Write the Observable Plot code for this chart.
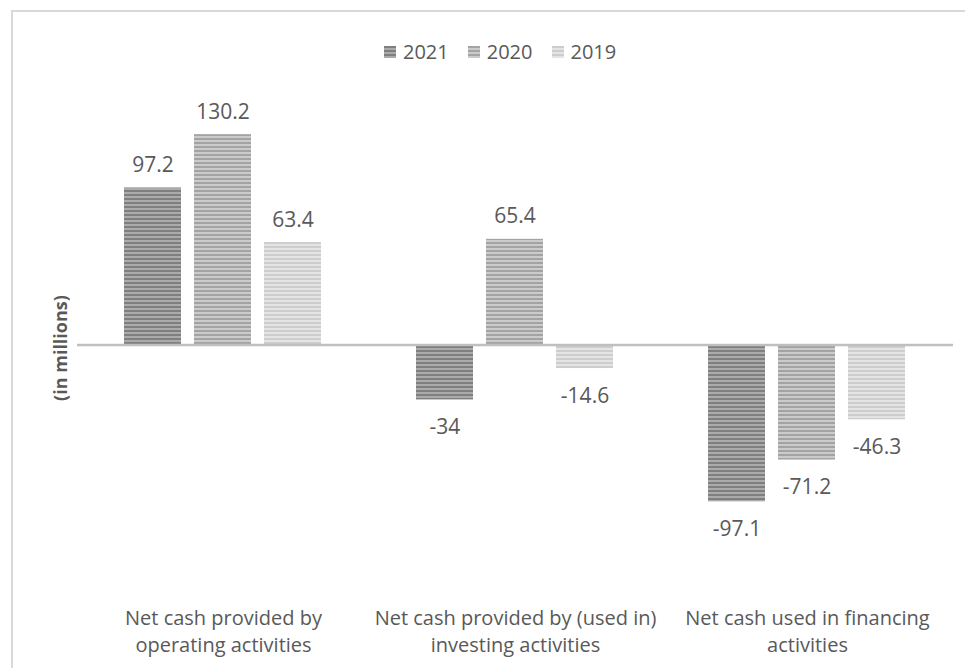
<!DOCTYPE html>
<html>
<head>
<meta charset="utf-8">
<script src="https://cdn.jsdelivr.net/npm/d3@7"></script>
<script src="https://cdn.jsdelivr.net/npm/@observablehq/plot@0.6"></script>
<style>
  body { margin: 0; background: #fff; }
  #wrap { position: relative; width: 965px; height: 668px; overflow: hidden; background: #fff; font-family: "Open Sans", sans-serif; color: #595959; }
  #frame { position: absolute; left: 11px; top: 10px; width: 1200px; height: 1000px; border-top: 2px solid #d9d9d9; border-left: 2px solid #d9d9d9; pointer-events: none; }
  #legend { position: relative; height: 70px; }
  #legend .items { position: absolute; left: 384px; top: 40px; height: 24px; display: flex; align-items: center; font-size: 20px; line-height: 24px; }
  #legend .item { display: flex; align-items: center; margin-right: 19px; }
  #legend .sw { width: 12px; height: 12px; margin-right: 7px; }
  #chart { position: relative; }
</style>
</head>
<body>
<div id="wrap">
  <div id="frame"></div>
  <div id="legend"><div class="items"></div></div>
  <div id="chart"></div>
</div>
<script>
// ---- data ----
const categories = [
  "Net cash provided by\noperating activities",
  "Net cash provided by (used in)\ninvesting activities",
  "Net cash used in financing\nactivities"
];
const years = ["2021", "2020", "2019"];
const values2021 = [97.2, -34, -97.1];
const values2020 = [130.2, 65.4, -71.2];
const values2019 = [63.4, -14.6, -46.3];
const yLabel = "(in millions)";

// stripe colours per year [dark, light]
const stripeColors = {
  "2021": ["#7f7f7f", "#ababab"],
  "2020": ["#a3a3a3", "#cbcbcb"],
  "2019": ["#cdcdcd", "#e4e4e4"]
};

const seriesByYear = {"2021": values2021, "2020": values2020, "2019": values2019};
const data = [];
categories.forEach((c, i) => {
  years.forEach(y => data.push({category: c, year: y, value: seriesByYear[y][i]}));
});

// ---- legend ----
const items = document.querySelector("#legend .items");
years.forEach(y => {
  const [d, l] = stripeColors[y];
  const it = document.createElement("div");
  it.className = "item";
  const sw = document.createElement("div");
  sw.className = "sw";
  sw.style.background = `repeating-linear-gradient(to bottom, ${d} 0px, ${d} 2px, ${l} 2px, ${l} 4px)`;
  const t = document.createElement("span");
  t.textContent = y;
  it.appendChild(sw); it.appendChild(t);
  items.appendChild(it);
});

// ---- chart ----
const patternIds = years.map(y => `url(#stripe${y})`);

const chart = Plot.plot({
  width: 965,
  height: 598,
  marginLeft: 76,
  marginRight: 12,
  marginTop: 16,
  marginBottom: 65,
  style: {fontFamily: "Open Sans, sans-serif", color: "#595959", background: "transparent", overflow: "visible"},
  fx: {domain: categories, padding: 0, axis: null, label: null},
  x: {domain: years, paddingInner: 0.18, paddingOuter: 0.65, axis: null, label: null},
  y: {domain: [-160, 160], axis: null, label: null},
  color: {domain: years, range: patternIds},
  marks: [
    Plot.barY(data, {fx: "category", x: "year", y: "value", fill: "year"}),
    Plot.ruleY([0], {stroke: "#bfbfbf", strokeWidth: 2.5}),
    Plot.text(data.filter(d => d.value >= 0), {
      fx: "category", x: "year", y: "value", text: d => String(d.value),
      lineAnchor: "bottom", dy: -16, fontSize: 21, fill: "#595959"
    }),
    Plot.text(data.filter(d => d.value < 0), {
      fx: "category", x: "year", y: "value", text: d => String(d.value),
      lineAnchor: "bottom", dy: 34, fontSize: 21, fill: "#595959"
    }),
    Plot.text(categories, {
      fx: d => d, text: d => d, frameAnchor: "bottom", lineAnchor: "top",
      dy: 2, fontSize: 20, lineHeight: 1.37, fill: "#595959"
    }),
    Plot.text([categories[0]], {
      fx: d => d, text: () => yLabel, frameAnchor: "left", textAnchor: "middle",
      lineAnchor: "middle", rotate: -90,
      dx: -16, dy: 3, fontSize: 18, fontWeight: "bold", fill: "#595959"
    })
  ]
});

// stripe patterns
const svgNS = "http://www.w3.org/2000/svg";
const defs = document.createElementNS(svgNS, "defs");
years.forEach(y => {
  const [d, l] = stripeColors[y];
  const p = document.createElementNS(svgNS, "pattern");
  p.setAttribute("id", `stripe${y}`);
  p.setAttribute("patternUnits", "userSpaceOnUse");
  p.setAttribute("width", "8");
  p.setAttribute("height", "4");
  const r1 = document.createElementNS(svgNS, "rect");
  r1.setAttribute("width", "8"); r1.setAttribute("height", "4"); r1.setAttribute("fill", l);
  const r2 = document.createElementNS(svgNS, "rect");
  r2.setAttribute("width", "8"); r2.setAttribute("height", "2"); r2.setAttribute("fill", d);
  p.appendChild(r1); p.appendChild(r2);
  defs.appendChild(p);
});
chart.insertBefore(defs, chart.firstChild);

document.getElementById("chart").appendChild(chart);
</script>
</body>
</html>
